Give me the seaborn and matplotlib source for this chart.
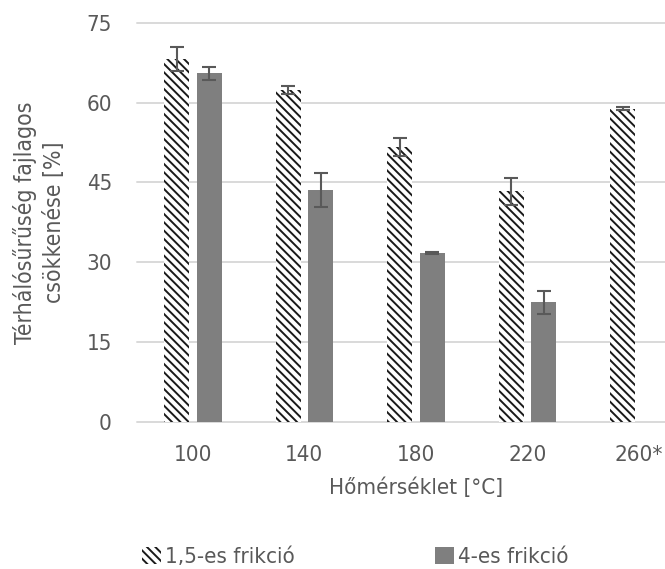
import numpy as np
import pandas as pd
import matplotlib
matplotlib.use("Agg")
import matplotlib.pyplot as plt
from matplotlib import font_manager
import seaborn as sns

# Temperature levels and the two friction series (mean and error)
temperatures = ["100", "140", "180", "220", "260*"]
series_names = ["1,5-es frikció", "4-es frikció"]
fric_15 = [68.2, 62.4, 51.7, 43.3, 58.9]
fric_15_err = [2.3, 0.7, 1.7, 2.5, 0.2]
fric_4 = [65.5, 43.6, 31.7, 22.4, np.nan]
fric_4_err = [1.3, 3.2, 0.2, 2.2, np.nan]
y_ticks = [0, 15, 30, 45, 60, 75]

text_color = "#595959"
grid_color = "#d9d9d9"
solid_color = "#7f7f7f"

sns.set_theme(style="whitegrid")

# pick a narrow sans face when one is installed
names = {f.name for f in font_manager.fontManager.ttflist}
stretch = "normal"
if "Liberation Sans Narrow" in names:
    family = "Liberation Sans Narrow"
elif any(f.name == "DejaVu Sans" and f.stretch == "condensed"
         for f in font_manager.fontManager.ttflist):
    family, stretch = "DejaVu Sans", "condensed"
else:
    family = "Roboto"
plt.rcParams["font.family"] = [family, "DejaVu Sans"]
plt.rcParams["font.stretch"] = stretch
plt.rcParams["hatch.linewidth"] = 1.4

df = pd.DataFrame({
    "temp": temperatures * 2,
    "series": [series_names[0]] * 5 + [series_names[1]] * 5,
    "value": fric_15 + fric_4,
})
df = df.dropna(subset=["value"])
errors = {series_names[0]: fric_15_err, series_names[1]: fric_4_err}

fig = plt.figure(figsize=(6.65, 5.69), dpi=100)
# plot area runs a little past the right edge of the figure
ax = fig.add_axes([137 / 665, 1 - 421.5 / 569, (695 - 137) / 665, (421.5 - 23) / 569])

sns.barplot(data=df, x="temp", y="value", hue="series", order=temperatures,
            hue_order=series_names, palette=["white", solid_color],
            width=0.584, gap=0.23, errorbar=None, legend=False, ax=ax,
            linewidth=0)

for container, name in zip(ax.containers, series_names):
    xs, hs, es = [], [], []
    for bar in container:
        if name == series_names[0]:
            bar.set_facecolor("white")
            bar.set_edgecolor("#1a1a1a")
            bar.set_hatch("\\\\\\\\")
            bar.set_linewidth(0)
        else:
            bar.set_facecolor(solid_color)
            bar.set_linewidth(0)
    # error bars placed on the drawn bars
    errs = errors[name]
    for bar in container:
        h = bar.get_height()
        if np.isnan(h):
            continue
        idx = int(round(bar.get_x() + bar.get_width() / 2))
        xs.append(bar.get_x() + bar.get_width() / 2)
        hs.append(h)
        es.append(errs[idx])
    ax.errorbar(xs, hs, yerr=es, fmt="none", ecolor=text_color,
                elinewidth=1.5, capsize=5, capthick=1.5, zorder=5)

ax.set_ylim(0, 75)
ax.set_yticks(y_ticks)
ax.set_xlim(-0.5, 4.5)
ax.grid(axis="y", color=grid_color, linewidth=1.4)
ax.grid(axis="x", visible=False)
for gl in ax.get_ygridlines():
    gl.set_clip_on(False)
for s in ax.spines.values():
    s.set_visible(False)
ax.set_axisbelow(True)

ax.tick_params(axis="y", length=0, pad=18, labelsize=16, labelcolor=text_color)
ax.tick_params(axis="x", length=0, pad=17, labelsize=16, labelcolor=text_color)

ax.set_xlabel("Hőmérséklet [°C]", fontsize=16, color=text_color, labelpad=9)
ax.set_ylabel("Térhálósűrűség fajlagos\ncsökkenése [%]", fontsize=16.5,
              color=text_color, labelpad=15, linespacing=1.3)

handles = [ax.containers[0][0], ax.containers[1][0]]
leg = fig.legend(handles, series_names, loc="center left", ncol=2,
                 bbox_to_anchor=(142 / 665, 1 - 557 / 569), frameon=False,
                 fontsize=16, labelcolor=text_color, handlelength=0.85,
                 handleheight=0.85, handletextpad=0.2, columnspacing=6.3,
                 borderaxespad=0, borderpad=0)

fig.savefig("out.png", dpi=100, facecolor="white")
